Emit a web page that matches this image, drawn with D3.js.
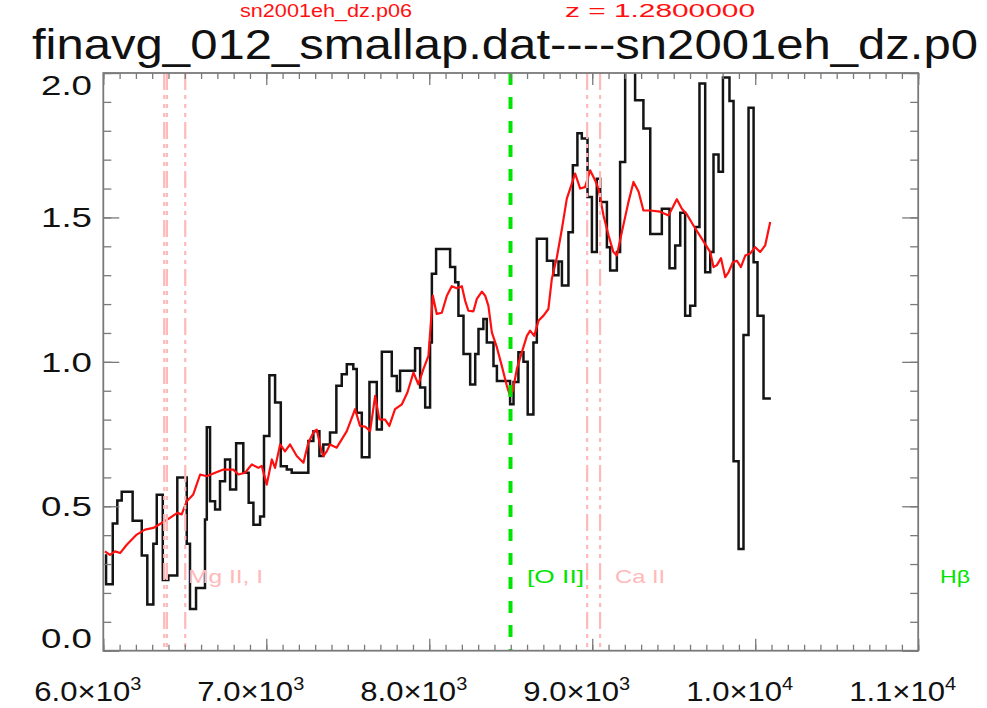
<!DOCTYPE html>
<html>
<head>
<meta charset="utf-8">
<script src="https://cdn.jsdelivr.net/npm/d3@7"></script>
<style>
  body { margin: 0; background: #fff; }
  svg { display: block; }
  text { font-family: "Liberation Sans", Arial, Helvetica, sans-serif; }
</style>
</head>
<body>
<svg id="chart" width="987" height="708"></svg>
<script>
// ---- data ----
const redshift = 1.28;

// observed spectrum: left edge of each bin (Å) and binned flux
const specEdges = [6010, 6017, 6058, 6086, 6113, 6180, 6236, 6270, 6307, 6328,
  6365, 6399, 6454, 6512, 6532, 6569, 6624, 6635, 6655, 6686,
  6716, 6747, 6778, 6815, 6859, 6892, 6921, 6962, 6986, 7019,
  7054, 7089, 7126, 7156, 7258, 7289, 7326, 7350, 7391, 7430,
  7463, 7494, 7534, 7555, 7586, 7633, 7678, 7709, 7770, 7801,
  7821, 7913, 7944, 7975, 8005, 8016, 8042, 8128, 8159, 8179,
  8210, 8251, 8282, 8302, 8332, 8353, 8394, 8415, 8496, 8517,
  8547, 8578, 8604, 8639, 8660, 8722, 8762, 8793, 8814, 8854,
  8881, 8909, 8936, 8971, 8998, 9028, 9049, 9090, 9110, 9151,
  9171, 9202, 9263, 9314, 9356, 9427, 9474, 9509, 9540, 9570,
  9601, 9632, 9658, 9693, 9724, 9744, 9775, 9802, 9842, 9867,
  9898, 9928, 9959, 9990, 10014, 10051];
const specEnd = 10096;
const specFlux = [0.33, 0.23, 0.44, 0.52, 0.55, 0.45, 0.33, 0.16, 0.37, 0.54,
  0.245, 0.26, 0.60, 0.37, 0.144, 0.217, 0.454, 0.774, 0.517, 0.489,
  0.587, 0.662, 0.558, 0.718, 0.616, 0.512, 0.436, 0.465, 0.743, 0.954,
  0.859, 0.639, 0.627, 0.616, 0.726, 0.760, 0.674, 0.714, 0.755, 0.917,
  0.957, 0.992, 0.975, 0.824, 0.67, 0.93, 0.766, 1.035, 0.951, 0.899,
  0.969, 1.047, 0.911, 0.842, 1.067, 1.305, 1.391, 1.328, 1.276, 1.160,
  1.027, 0.922, 1.027, 1.114, 1.148, 1.067, 0.986, 0.934, 0.853, 0.930,
  1.033, 1.000, 0.818, 1.067, 1.426, 1.350, 1.300, 1.347, 1.264, 1.449,
  1.681, 1.791, 1.773, 1.571, 1.380, 1.634, 1.553, 1.397, 1.316, 1.380,
  1.692, 2.200, 1.906, 1.808, 1.443, 1.530, 1.324, 1.403, 1.516, 1.160,
  1.194, 1.467, 1.964, 1.310, 1.380, 1.718, 1.658, 1.984, 1.903, 0.656,
  0.352, 1.093, 1.880, 1.345, 1.160, 0.873];

// template spectrum (sn2001eh_dz.p06) at z = 1.28
const modelWave = [6010, 6041, 6072, 6103, 6144, 6205, 6256, 6307, 6358, 6409,
  6454, 6481, 6512, 6552, 6594, 6635, 6686, 6737, 6798, 6829,
  6870, 6911, 6951, 6972, 7003, 7034, 7054, 7085, 7115, 7146,
  7187, 7228, 7258, 7293, 7310, 7336, 7350, 7371, 7391, 7432,
  7494, 7545, 7575, 7606, 7637, 7668, 7694, 7729, 7755, 7790,
  7832, 7866, 7903, 7933, 7964, 7995, 8022, 8046, 8077, 8108,
  8138, 8169, 8200, 8220, 8240, 8271, 8292, 8323, 8343, 8363,
  8384, 8415, 8445, 8476, 8496, 8513, 8537, 8568, 8599, 8619,
  8644, 8670, 8701, 8731, 8752, 8783, 8814, 8844, 8864, 8895,
  8926, 8956, 8987, 9018, 9038, 9069, 9100, 9130, 9151, 9182,
  9222, 9253, 9284, 9314, 9356, 9417, 9468, 9519, 9550, 9581,
  9621, 9673, 9724, 9744, 9765, 9790, 9816, 9836, 9863, 9888,
  9912, 9939, 9969, 10000, 10030, 10061, 10092];
const modelFlux = [0.344, 0.332, 0.344, 0.338, 0.367, 0.402, 0.419, 0.425, 0.442, 0.460,
  0.477, 0.472, 0.517, 0.541, 0.610, 0.604, 0.616, 0.627, 0.627, 0.610,
  0.616, 0.645, 0.633, 0.640, 0.575, 0.662, 0.633, 0.714, 0.690, 0.714,
  0.674, 0.651, 0.720, 0.760, 0.765, 0.697, 0.674, 0.690, 0.714, 0.703,
  0.760, 0.836, 0.778, 0.776, 0.760, 0.882, 0.801, 0.800, 0.778, 0.836,
  0.853, 0.894, 0.963, 0.922, 0.975, 1.021, 1.229, 1.166, 1.170, 1.229,
  1.262, 1.255, 1.262, 1.212, 1.177, 1.175, 1.218, 1.243, 1.229, 1.194,
  1.102, 1.050, 0.986, 0.917, 0.882, 0.900, 0.975, 1.033, 1.090, 1.108,
  1.090, 1.142, 1.160, 1.183, 1.287, 1.362, 1.461, 1.565, 1.599, 1.652,
  1.600, 1.605, 1.663, 1.628, 1.600, 1.507, 1.438, 1.380, 1.368, 1.450,
  1.553, 1.623, 1.590, 1.524, 1.524, 1.520, 1.507, 1.563, 1.530, 1.510,
  1.472, 1.426, 1.380, 1.328, 1.335, 1.359, 1.293, 1.310, 1.345, 1.350,
  1.328, 1.368, 1.375, 1.397, 1.380, 1.403, 1.484];

// rest-frame line list (Å) and line type
const lineRest = [2795.5, 2802.7, 2852.1, 3727.4, 3933.7, 3968.5, 4861.3];
const lineKind = ["abs", "abs", "abs", "em", "abs", "abs", "em"];

// line labels: text, observed-frame anchor (Å), type
const labelText = ["Mg II, I", "[O II]", "Ca II", "H\u03B2"];
const labelWave = [6520, 8600, 9140, 11134];
const labelKind = ["abs", "em", "abs", "em"];

// axis ticks
const xMajor = [6000, 7000, 8000, 9000, 10000, 11000];
const xMantissa = ["6.0", "7.0", "8.0", "9.0", "1.0", "1.1"];
const xExponent = ["3", "3", "3", "3", "4", "4"];
const yMajor = [0, 0.5, 1.0, 1.5, 2.0];
const yLabels = ["0.0", "0.5", "1.0", "1.5", "2.0"];

const titleText = "finavg_012_smallap.dat----sn2001eh_dz.p0";
const templateName = "sn2001eh_dz.p06";
const redshiftText = "z = 1.2800000";

// ---- drawing ----
const svg = d3.select("#chart");
const plotL = 103.3, plotR = 918.2, plotT = 73, plotB = 650.7;
const x = d3.scaleLinear().domain([6000, 11000]).range([plotL, plotR]);
const y = d3.scaleLinear().domain([0, 2]).range([plotB, plotT]);

const pink = "#ffb9b9";
const green = "#00e400";
const axisGrey = "#7a7a7a";

svg.append("defs").append("clipPath").attr("id", "plotclip")
  .append("rect").attr("x", plotL).attr("y", plotT)
  .attr("width", plotR - plotL).attr("height", plotB - plotT);

// observed spectrum as a histogram
const specPts = specEdges.map((e, i) => [e, specFlux[i]]);
specPts.push([specEnd, specFlux[specFlux.length - 1]]);
const stepLine = d3.line().x(d => x(d[0])).y(d => y(d[1])).curve(d3.curveStepAfter);
svg.append("path")
  .attr("clip-path", "url(#plotclip)")
  .attr("d", stepLine(specPts))
  .attr("fill", "none").attr("stroke", "#141414")
  .attr("stroke-width", 2.5).attr("stroke-linejoin", "miter");

// template curve
const modelLine = d3.line().x((d, i) => x(modelWave[i])).y(d => y(d));
svg.append("path")
  .attr("clip-path", "url(#plotclip)")
  .attr("d", modelLine(modelFlux))
  .attr("fill", "none").attr("stroke", "#ff1010")
  .attr("stroke-width", 2.2).attr("stroke-linejoin", "round");

// redshifted line markers
const obsLines = lineRest.map((w, i) => ({ w: w * (1 + redshift), kind: lineKind[i] }))
  .filter(d => d.w >= 6000 && d.w <= 11000);
svg.append("g").selectAll("line").data(obsLines).join("line")
  .attr("x1", d => x(d.w)).attr("x2", d => x(d.w))
  .attr("y1", plotT).attr("y2", plotB)
  .attr("stroke", d => d.kind === "em" ? green : pink)
  .attr("stroke-width", d => d.kind === "em" ? 4 : 2.2)
  .attr("stroke-dasharray", d => d.kind === "em" ? "12,12" : "17,5,4,5,4,5,4,5");

// line labels
const labelLen = { "Mg II, I": 75, "[O II]": 57, "Ca II": 50, "H\u03B2": 30 };
svg.append("g").selectAll("text").data(labelText).join("text")
  .attr("x", (d, i) => x(labelWave[i]))
  .attr("y", y(0.235))
  .attr("font-size", 19)
  .attr("fill", (d, i) => labelKind[i] === "em" ? green : pink)
  .attr("textLength", d => labelLen[d]).attr("lengthAdjust", "spacingAndGlyphs")
  .text(d => d);

// axes: minor and major ticks on all four sides
function styleAxis(g) {
  g.select(".domain").remove();
  g.selectAll(".tick line").attr("stroke", axisGrey).attr("stroke-width", 1.3);
  g.selectAll(".tick text").remove();
}
const xMinor = d3.range(6000, 11001, 100);
const yMinor = d3.range(0, 21).map(v => v / 10);
svg.append("g").attr("transform", `translate(0,${plotB})`)
  .call(d3.axisBottom(x).tickValues(xMinor).tickSize(-6).tickFormat("")).call(styleAxis);
svg.append("g").attr("transform", `translate(0,${plotB})`)
  .call(d3.axisBottom(x).tickValues(xMajor).tickSize(-12).tickFormat("")).call(styleAxis);
svg.append("g").attr("transform", `translate(0,${plotT})`)
  .call(d3.axisTop(x).tickValues(xMinor).tickSize(-6).tickFormat("")).call(styleAxis);
svg.append("g").attr("transform", `translate(0,${plotT})`)
  .call(d3.axisTop(x).tickValues(xMajor).tickSize(-12).tickFormat("")).call(styleAxis);
svg.append("g").attr("transform", `translate(${plotL},0)`)
  .call(d3.axisLeft(y).tickValues(yMinor).tickSize(-8).tickFormat("")).call(styleAxis);
svg.append("g").attr("transform", `translate(${plotL},0)`)
  .call(d3.axisLeft(y).tickValues(yMajor).tickSize(-16).tickFormat("")).call(styleAxis);
svg.append("g").attr("transform", `translate(${plotR},0)`)
  .call(d3.axisRight(y).tickValues(yMinor).tickSize(-8).tickFormat("")).call(styleAxis);
svg.append("g").attr("transform", `translate(${plotR},0)`)
  .call(d3.axisRight(y).tickValues(yMajor).tickSize(-16).tickFormat("")).call(styleAxis);

svg.append("rect")
  .attr("x", plotL).attr("y", plotT).attr("width", plotR - plotL).attr("height", plotB - plotT)
  .attr("fill", "none").attr("stroke", axisGrey).attr("stroke-width", 1.8);

// y tick labels
svg.append("g").selectAll("text").data(yMajor).join("text")
  .attr("x", 92).attr("text-anchor", "end")
  .attr("y", v => Math.min(Math.max(y(v) + 10, plotT + 22), plotB - 3))
  .attr("font-size", 28).attr("fill", "#111")
  .attr("textLength", 51).attr("lengthAdjust", "spacingAndGlyphs")
  .text((v, i) => yLabels[i]);

// x tick labels in scientific notation
const xl = svg.append("g").selectAll("text").data(xMajor).join("text")
  .attr("x", v => x(v) - 69).attr("y", 701)
  .attr("font-size", 28).attr("fill", "#111")
  .attr("textLength", 107).attr("lengthAdjust", "spacingAndGlyphs");
xl.append("tspan").text((v, i) => xMantissa[i] + "\u00D710");
xl.append("tspan").attr("dy", -11).attr("font-size", 18).text((v, i) => xExponent[i]);

// title and template / redshift annotations
svg.append("text").attr("x", 32).attr("y", 59)
  .attr("font-size", 42).attr("fill", "#111")
  .attr("textLength", 946).attr("lengthAdjust", "spacingAndGlyphs")
  .text(titleText);
svg.append("text").attr("x", 240).attr("y", 17)
  .attr("font-size", 18).attr("fill", "#ff1010")
  .attr("textLength", 172).attr("lengthAdjust", "spacingAndGlyphs")
  .text(templateName);
svg.append("text").attr("x", 565).attr("y", 17)
  .attr("font-size", 18).attr("fill", "#ff1010")
  .attr("textLength", 190).attr("lengthAdjust", "spacingAndGlyphs")
  .text(redshiftText);
</script>
</body>
</html>
